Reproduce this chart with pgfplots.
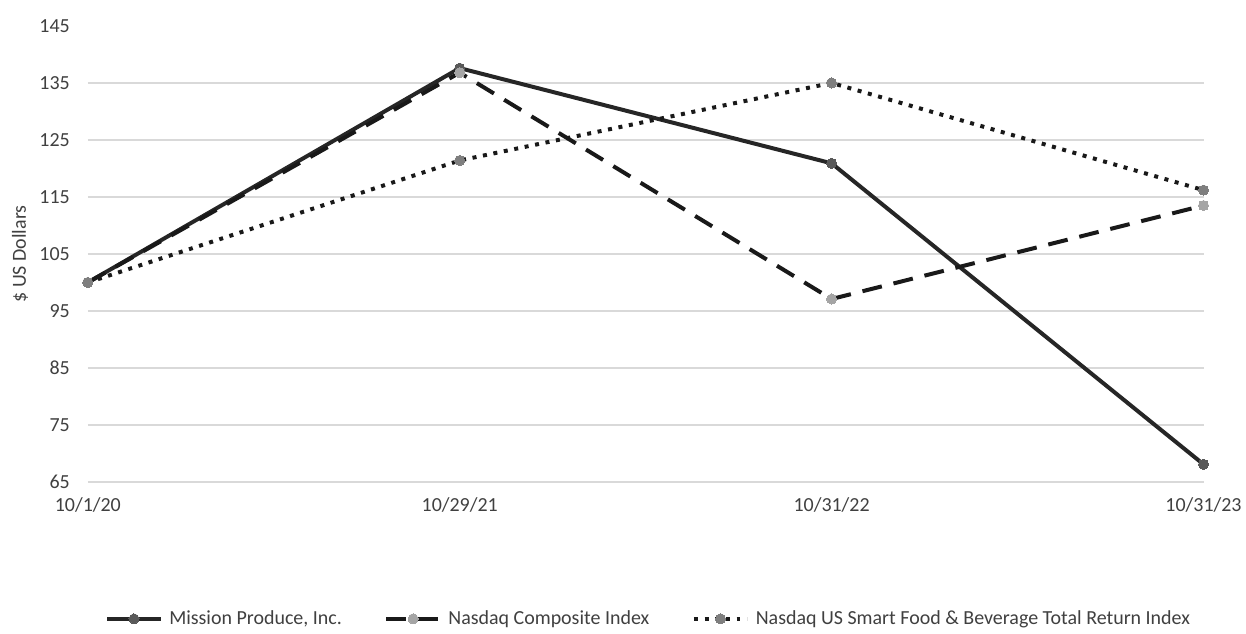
\documentclass[border=0pt]{standalone}
\usepackage{pgfplots}
\pgfplotsset{compat=1.18}
\usepackage{fontspec}
\setmainfont{Carlito}

\definecolor{gridgray}{HTML}{D9D9D9}
\definecolor{txtgray}{HTML}{404040}
\definecolor{linedark}{HTML}{262626}
\definecolor{markdark}{HTML}{595959}
\definecolor{marklight}{HTML}{A5A5A5}
\definecolor{markmid}{HTML}{7F7F7F}

\begin{document}
\begin{tikzpicture}
\begin{axis}[
    name=ax,
    scale only axis,
    width=838.5pt, height=342.75pt,
    xmin=0, xmax=3,
    ymin=65, ymax=145,
    xtick={0,1,2,3},
    xticklabels={10/1/20,10/29/21,10/31/22,10/31/23},
    ytick={65,75,...,135},
    extra y ticks={145},
    extra y tick style={grid=none},
    axis line style={draw=none},
    major tick length=0pt,
    ymajorgrids=true,
    grid style={gridgray, line width=0.9pt},
    tick label style={font=\fontsize{15}{17}\selectfont, text=txtgray},
    /pgf/number format/assume math mode=true,
    yticklabel style={xshift=-10pt},
    xticklabel style={yshift=-8pt},
    ylabel={\$ US Dollars},
    ylabel style={font=\fontsize{15}{17}\selectfont, text=txtgray,
        at={(rel axis cs:0,0.5)}, anchor=center, yshift=51pt},
    clip=false,
    legend columns=3,
    legend style={at={(0.503,-0.30)}, anchor=center, draw=none,
        font=\fontsize{15}{17}\selectfont, text=txtgray,
        /tikz/every odd column/.append style={column sep=3pt},
        /tikz/every even column/.append style={column sep=30pt}},
    legend image code/.code={
        \draw[mark repeat=2, mark phase=2]
        plot coordinates {(0pt,0pt) (20pt,0pt) (40pt,0pt)};
    },
]
\addplot[linedark, line width=3pt, mark=*, mark size=3.8pt,
    mark options={solid, fill=markdark, draw=markdark, line width=0pt}]
    coordinates {(0,100) (1,137.6) (2,120.9) (3,68.1)};
\addlegendentry{Mission Produce, Inc.}

\addplot[black!90, line width=3pt, dash pattern=on 15pt off 9pt,
    mark=*, mark size=3.8pt,
    mark options={solid, fill=marklight, draw=marklight, line width=0pt}]
    coordinates {(0,100) (1,136.8) (2,97.1) (3,113.5)};
\addlegendentry{Nasdaq Composite Index}

\addplot[black!90, line width=3pt, dash pattern=on 3pt off 5pt,
    mark=*, mark size=3.8pt,
    mark options={solid, fill=markmid, draw=markmid, line width=0pt}]
    coordinates {(0,100) (1,121.4) (2,135) (3,116.2)};
\addlegendentry{Nasdaq US Smart Food \& Beverage Total Return Index}
\end{axis}
\path ([xshift=-66pt,yshift=-114pt]ax.south west) rectangle ([xshift=30pt,yshift=19.5pt]ax.north east);
\end{tikzpicture}
\end{document}
